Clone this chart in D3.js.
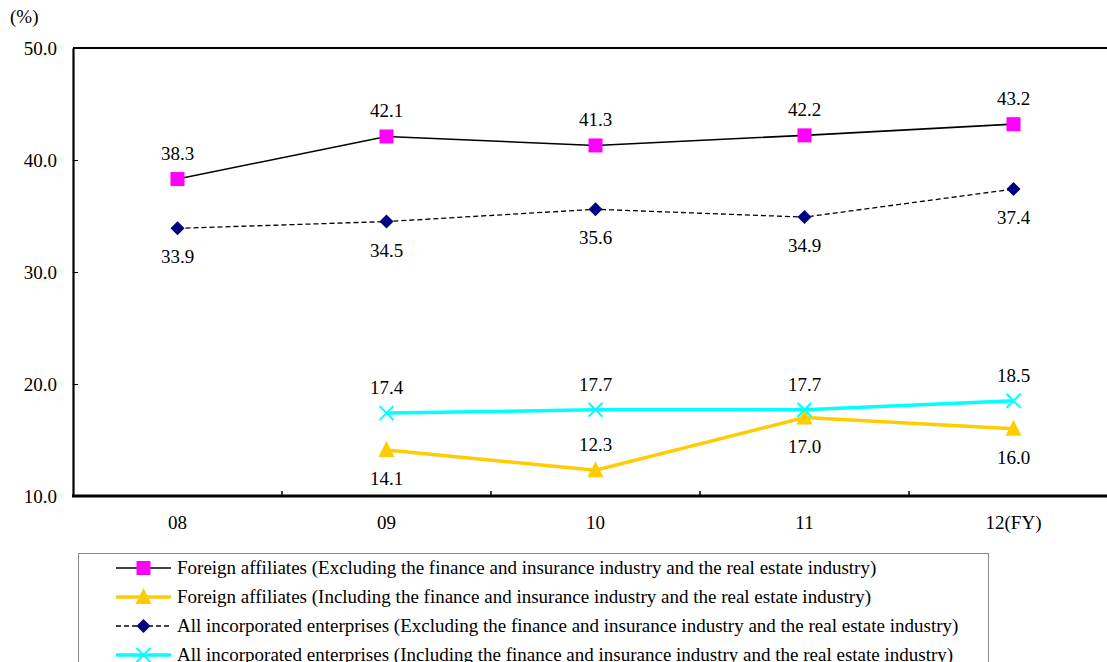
<!DOCTYPE html>
<html>
<head>
<meta charset="utf-8">
<script src="https://cdn.jsdelivr.net/npm/d3@7"></script>
<style>
  html, body { margin: 0; padding: 0; background: #fff; overflow: hidden; }
</style>
</head>
<body>
<svg id="chart" width="1107" height="662" style="font-family: 'Liberation Serif', 'Times New Roman', 'DejaVu Serif', serif;"></svg>
<script>
// Fiscal years shown along the x axis
const years = ["08", "09", "10", "11", "12(FY)"];
const yTicks = [10, 20, 30, 40, 50];

// Ratios (%) per fiscal year; null where no figure exists
const foreignExcl = [38.3, 42.1, 41.3, 42.2, 43.2];
const foreignIncl = [null, 14.1, 12.3, 17.0, 16.0];
const allExcl     = [33.9, 34.5, 35.6, 34.9, 37.4];
const allIncl     = [null, 17.4, 17.7, 17.7, 18.5];

const seriesNames = [
  "Foreign affiliates (Excluding the finance and insurance industry and the real estate industry)",
  "Foreign affiliates (Including the finance and insurance industry and the real estate industry)",
  "All incorporated enterprises (Excluding the finance and insurance industry and the real estate industry)",
  "All incorporated enterprises (Including the finance and insurance industry and the real estate industry)"
];

const FONT = "'Liberation Serif', 'Times New Roman', 'DejaVu Serif', serif";
const FS = 19;

// label placement per point: "a" above, "b" below
const series = [
  { name: seriesNames[0], values: foreignExcl, color: "#000", width: 1.6, dash: null, marker: "square", mcolor: "#ff00ff", labels: ["a","a","a","a","a"] },
  { name: seriesNames[1], values: foreignIncl, color: "#ffcc00", width: 3.5, dash: null, marker: "triangle", mcolor: "#ffcc00", labels: ["b","b","a","b","b"] },
  { name: seriesNames[2], values: allExcl, color: "#000", width: 1.3, dash: "5,3", marker: "diamond", mcolor: "#000080", labels: ["b","b","b","b","b"] },
  { name: seriesNames[3], values: allIncl, color: "#00ffff", width: 3.5, dash: null, marker: "cross", mcolor: "#00ffff", labels: ["a","a","a","a","a"] }
];

const svg = d3.select("#chart");
const plot = { left: 73, top: 48, bottom: 496, right: 1118 };

const x = d3.scaleBand().domain(years).range([plot.left, plot.right]);
const y = d3.scaleLinear().domain([10, 50]).range([plot.bottom, plot.top]);
const cx = d => x(d) + x.bandwidth() / 2;

// frame top line
svg.append("line")
  .attr("x1", plot.left).attr("x2", 1107)
  .attr("y1", plot.top).attr("y2", plot.top)
  .attr("stroke", "#000").attr("stroke-width", 2);

// y axis
const yAxis = svg.append("g").attr("transform", `translate(${plot.left},0)`)
  .call(d3.axisLeft(y).tickValues(yTicks).tickFormat(d3.format(".1f")).tickSizeInner(-5).tickSizeOuter(0).tickPadding(16));
yAxis.attr("font-family", FONT).attr("font-size", FS);
yAxis.select(".domain").attr("stroke-width", 2.2);
yAxis.selectAll("text").attr("fill", "#000");

// x axis with ticks at category boundaries
const xAxis = svg.append("g").attr("transform", `translate(0,${plot.bottom})`);
xAxis.append("line").attr("x1", plot.left - 1).attr("x2", 1107)
  .attr("y1", 0).attr("y2", 0).attr("stroke", "#000").attr("stroke-width", 3);
xAxis.selectAll("line.tk").data(years.slice(1)).enter().append("line")
  .attr("class", "tk")
  .attr("x1", d => x(d)).attr("x2", d => x(d))
  .attr("y1", 0).attr("y2", -5).attr("stroke", "#000").attr("stroke-width", 1.5);
xAxis.selectAll("text").data(years).enter().append("text")
  .attr("x", d => cx(d)).attr("y", 33)
  .attr("text-anchor", "middle").attr("font-size", FS).attr("font-family", FONT)
  .text(d => d);

// unit label
svg.append("text").attr("x", 10).attr("y", 23).attr("font-size", FS).attr("font-family", FONT).text("(%)");

function drawMarker(g, type, px, py, color) {
  if (type === "square") {
    g.append("rect").attr("x", px - 7).attr("y", py - 7).attr("width", 14).attr("height", 14).attr("fill", color);
  } else if (type === "diamond") {
    g.append("path").attr("d", `M${px},${py-7}L${px+7},${py}L${px},${py+7}L${px-7},${py}Z`).attr("fill", color);
  } else if (type === "triangle") {
    g.append("path").attr("d", `M${px},${py-9}L${px+8},${py+7}L${px-8},${py+7}Z`).attr("fill", color);
  } else if (type === "cross") {
    g.append("path").attr("d", `M${px-7},${py-7}L${px+7},${py+7}M${px-7},${py+7}L${px+7},${py-7}`)
      .attr("stroke", color).attr("stroke-width", 2);
  }
}

const line = d3.line()
  .defined(d => d.v != null)
  .x(d => cx(d.year))
  .y(d => y(d.v));

series.forEach(s => {
  const pts = years.map((yr, i) => ({ year: yr, v: s.values[i], pos: s.labels[i] }));
  const g = svg.append("g");
  g.append("path").datum(pts)
    .attr("d", line)
    .attr("fill", "none")
    .attr("stroke", s.color)
    .attr("stroke-width", s.width)
    .attr("stroke-dasharray", s.dash);
  pts.filter(p => p.v != null).forEach(p => {
    drawMarker(g, s.marker, cx(p.year), y(p.v), s.mcolor);
    g.append("text")
      .attr("x", cx(p.year))
      .attr("y", y(p.v) + (p.pos === "a" ? -19 : 35))
      .attr("text-anchor", "middle").attr("font-size", FS).attr("font-family", FONT)
      .text(p.v.toFixed(1));
  });
});

// legend
const legend = svg.append("g");
legend.append("rect").attr("x", 78.5).attr("y", 553.5).attr("width", 910).attr("height", 130)
  .attr("fill", "#fff").attr("stroke", "#888").attr("stroke-width", 1);
series.forEach((s, i) => {
  const ly = 568 + i * 29;
  const row = legend.append("g");
  row.append("line").attr("x1", 116).attr("x2", 171).attr("y1", ly).attr("y2", ly)
    .attr("stroke", s.color).attr("stroke-width", s.width).attr("stroke-dasharray", s.dash);
  drawMarker(row, s.marker, 143.5, ly, s.mcolor);
  row.append("text").attr("x", 177).attr("y", ly + 6).attr("font-size", FS).attr("font-family", FONT).text(s.name);
});
</script>
</body>
</html>
